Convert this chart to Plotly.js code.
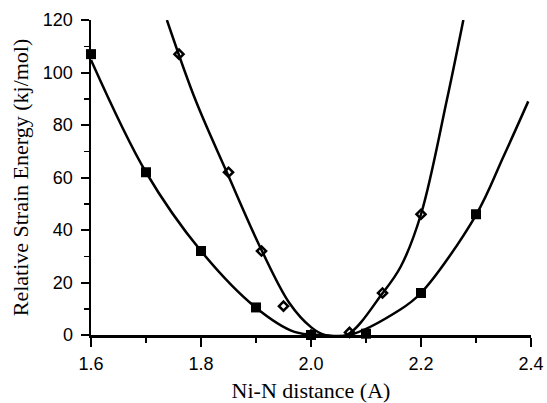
<!DOCTYPE html>
<html>
<head>
<meta charset="utf-8">
<script src="https://cdn.plot.ly/plotly-3.0.1.min.js"></script>
<style>html,body{margin:0;padding:0;background:#fff;}#chart{width:547px;height:403px;}</style>
</head>
<body>
<div id="chart"></div>
<script>
// Measured points
const squareX = [1.6, 1.7, 1.8, 1.9, 2.0, 2.1, 2.2, 2.3];
const squareY = [107, 62, 32, 10.5, 0, 0.5, 16, 46];
const diamondX = [1.76, 1.85, 1.91, 1.95, 2.0, 2.07, 2.13, 2.2];
const diamondY = [107, 62, 32, 11, 0, 1, 16, 46];

// Fitted curves
const squareCurveX = [1.6, 1.7, 1.8, 1.9, 1.97, 2.02, 2.07, 2.161, 2.2, 2.3, 2.35, 2.395];
const squareCurveY = [104.8, 62, 32, 10.4, 1.2, 0, 0, 9.5, 16, 45.7, 68, 89];
const diamondCurveX = [1.738, 1.79, 1.847, 1.91, 1.961, 2.0, 2.025, 2.065, 2.13, 2.163, 2.2, 2.247, 2.277];
const diamondCurveY = [120, 89.5, 62, 32.4, 12.1, 3, 0, 0, 15.9, 26, 46, 89.5, 120];

const traces = [
  {x: squareCurveX, y: squareCurveY, mode: 'lines', line: {color: '#000', width: 2.5, shape: 'spline', smoothing: 1}, hoverinfo: 'skip'},
  {x: diamondCurveX, y: diamondCurveY, mode: 'lines', line: {color: '#000', width: 2.5, shape: 'spline', smoothing: 1}, hoverinfo: 'skip'},
  {x: squareX, y: squareY, mode: 'markers', marker: {symbol: 'square', size: 10, color: '#000'}, cliponaxis: false},
  {x: diamondX, y: diamondY, mode: 'markers', marker: {symbol: 'diamond-open', size: 7, color: '#000', line: {width: 2.5, color: '#000'}}, cliponaxis: false}
];

const layout = {
  width: 547, height: 403,
  margin: {l: 91, r: 16, t: 20, b: 68},
  paper_bgcolor: '#fff', plot_bgcolor: '#fff',
  showlegend: false,
  xaxis: {
    range: [1.6, 2.4], dtick: 0.2, tick0: 1.6, tickformat: '.1f',
    showgrid: false, zeroline: false,
    showline: true, linecolor: '#000', linewidth: 2.5,
    ticks: 'outside', ticklen: 9, tickwidth: 2, tickcolor: '#000',
    ticklabelstandoff: 2,
    minor: {dtick: 0.1, ticks: 'outside', ticklen: 5, tickwidth: 1.5, tickcolor: '#000'},
    tickfont: {family: 'Liberation Sans, Arial, sans-serif', size: 18, color: '#000'},
    title: {text: 'Ni-N distance (A)', font: {family: 'Liberation Serif, Times New Roman, serif', size: 22, color: '#000'}, standoff: 11}
  },
  yaxis: {
    range: [0, 120], dtick: 20, tick0: 0,
    showgrid: false, zeroline: false,
    showline: true, linecolor: '#000', linewidth: 2.5,
    ticks: 'outside', ticklen: 8, tickwidth: 2, tickcolor: '#000',
    ticklabelstandoff: 4,
    minor: {dtick: 10, ticks: 'outside', ticklen: 5, tickwidth: 1.5, tickcolor: '#000'},
    tickfont: {family: 'Liberation Sans, Arial, sans-serif', size: 18, color: '#000'},
    title: {text: 'Relative Strain Energy (kj/mol)', font: {family: 'Liberation Serif, Times New Roman, serif', size: 22, color: '#000'}, standoff: 8}
  }
};

Plotly.newPlot('chart', traces, layout, {staticPlot: true, displayModeBar: false});
</script>
</body>
</html>
